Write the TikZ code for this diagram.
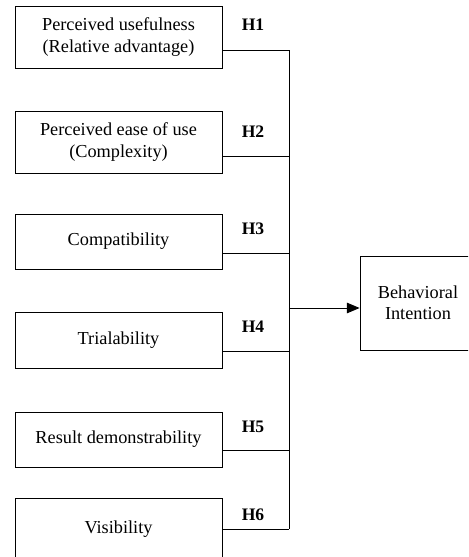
\documentclass[tikz,border=0pt]{standalone}
\usepackage{fontspec}
\setmainfont{Liberation Serif}
\usetikzlibrary{arrows.meta}

\begin{document}
\begin{tikzpicture}[x=0.025cm, y=-0.025cm,
    every node/.style={font=\fontsize{13pt}{15pt}\selectfont},
    factor/.style={draw, line width=0.6pt, align=center, minimum width=5.175cm, inner sep=0pt},
    hyp/.style={font=\fontsize{12.5pt}{15pt}\selectfont\bfseries},
    link/.style={line width=0.6pt}]
    \useasboundingbox (0,0) rectangle (468,557);
    \clip (0,0) rectangle (468,557);

    % Draw factors
    \node[factor, minimum height=1.55cm] (pu) at (118.5,37) {Perceived usefulness\\(Relative advantage)};
    \node[factor, minimum height=1.55cm] (peu) at (118.5,142) {Perceived ease of use\\(Complexity)};
    \node[factor, minimum height=1.375cm] (comp) at (118.5,241.5) {Compatibility};
    \node[factor, minimum height=1.4cm] (trial) at (118.5,340) {Trialability};
    \node[factor, minimum height=1.375cm] (res) at (118.5,439.5) {Result demonstrability};
    \node[factor, minimum height=1.55cm] (vis) at (118.5,529) {Visibility};

    % Draw outcome
    \node[factor, minimum width=2.9cm, minimum height=2.35cm] (bi) at (418,303) {Behavioral\\Intention};

    % Draw junctions
    \coordinate (j1) at (289,50);
    \coordinate (j2) at (289,156);
    \coordinate (j3) at (289,253);
    \coordinate (j4) at (289,351);
    \coordinate (j5) at (289,450);
    \coordinate (j6) at (289,529);
    \coordinate (jb) at (289,308);

    \draw[link] (pu.east |- j1) -- (j1) -- (j6);
    \draw[link] (peu.east |- j2) -- (j2);
    \draw[link] (comp.east |- j3) -- (j3);
    \draw[link] (trial.east |- j4) -- (j4);
    \draw[link] (res.east |- j5) -- (j5);
    \draw[link] (vis.east |- j6) -- (j6);
    \draw[link, -{Triangle[length=9pt, width=7.5pt]}] (jb) -- (bi.west |- jb);

    % Draw hypotheses
    \node[hyp] (h1) at (253,25) {H1};
    \node[hyp] (h2) at (253,132) {H2};
    \node[hyp] (h3) at (253,229) {H3};
    \node[hyp] (h4) at (253,327) {H4};
    \node[hyp] (h5) at (253,427) {H5};
    \node[hyp] (h6) at (253,515) {H6};
\end{tikzpicture}
\end{document}
